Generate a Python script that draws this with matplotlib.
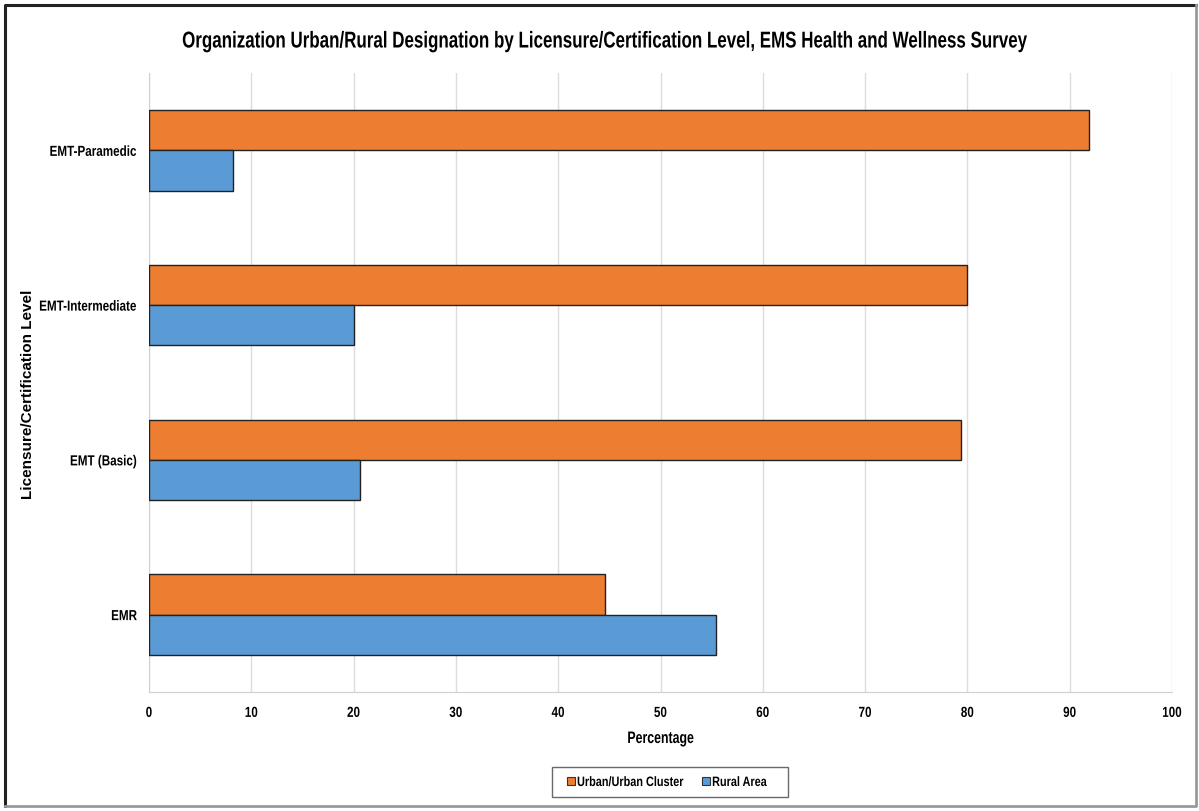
import matplotlib.pyplot as plt
from matplotlib.lines import Line2D
from matplotlib.patheffects import AbstractPathEffect
from matplotlib.transforms import Affine2D
import numpy as np

levels = ["EMR", "EMT (Basic)", "EMT-Intermediate", "EMT-Paramedic"]
urban = [44.6, 79.4, 80.0, 91.9]
rural = [55.4, 20.6, 20.0, 8.2]

ORANGE = "#ED7D31"
BLUE = "#5B9BD5"

plt.rcParams['font.family'] = ['Liberation Sans', 'DejaVu Sans']
plt.rcParams['font.weight'] = 'bold'
plt.rcParams['axes.labelweight'] = 'bold'


class Condense(AbstractPathEffect):
    """Squeeze glyphs horizontally to mimic a narrow typeface."""

    def __init__(self, sx, anchor='center'):
        super().__init__()
        self.sx = sx
        self.anchor = anchor

    def draw_path(self, renderer, gc, tpath, affine, rgbFace=None):
        ext = tpath.get_extents()
        if self.anchor == 'left':
            cx = ext.x0
        elif self.anchor == 'right':
            cx = ext.x1
        else:
            cx = (ext.x0 + ext.x1) / 2
        squeeze = Affine2D().translate(-cx, 0).scale(self.sx, 1).translate(cx, 0)
        renderer.draw_path(gc, tpath, squeeze + affine, rgbFace)


W, H = 1199, 811
fig = plt.figure(figsize=(W / 100, H / 100), dpi=100)
ax = fig.add_axes([149 / W, 1 - 692 / H, (1172 - 149) / W, (692 - 73) / H])

y = np.arange(len(levels))
h = 0.26
ax.barh(y + h / 2, urban, height=h, color=ORANGE, edgecolor="#222222",
        linewidth=1, label="Urban/Urban Cluster", zorder=3)
ax.barh(y - h / 2, rural, height=h, color=BLUE, edgecolor="#222222",
        linewidth=1, label="Rural Area", zorder=3)

ax.set_xlim(0, 100)
ax.set_ylim(-0.5, 3.5)
ax.set_xticks(range(0, 101, 10))
ax.set_yticks(y)
ax.set_yticklabels(levels)
ax.tick_params(axis='x', length=0, labelsize=10.5, pad=10)
ax.tick_params(axis='y', length=0, labelsize=10.5, pad=8.5)
for lbl in ax.get_xticklabels():
    lbl.set_path_effects([Condense(0.8)])
for lbl in ax.get_yticklabels():
    lbl.set_path_effects([Condense(0.8, 'right')])
ax.grid(axis='x', color="#dcdcdc", linewidth=1, zorder=0)
for side in ['top', 'right']:
    ax.spines[side].set_visible(False)
ax.spines['left'].set_color("#d0d0d0")
ax.spines['bottom'].set_color("#d0d0d0")

xl = ax.set_xlabel("Percentage", fontsize=12, labelpad=8)
xl.set_path_effects([Condense(0.74)])

fig.text(28 / W, 1 - 394 / H, "Licensure/Certification Level", rotation=90,
         fontsize=11, ha='center', va='center')
title = fig.text(603 / W, 1 - 41 / H,
                 "Organization Urban/Rural Designation by Licensure/Certification Level, "
                 "EMS Health and Wellness Survey",
                 fontsize=16.5, ha='center', va='center')
title.set_path_effects([Condense(0.74)])

handles = [Line2D([], [], marker='s', linestyle='', markersize=6,
                  markerfacecolor=c, markeredgecolor="#333333", markeredgewidth=0.8)
           for c in (ORANGE, BLUE)]
leg = fig.legend(handles, ["Urban/Urban Cluster", "Rural Area"], loc='center',
                 bbox_to_anchor=(670 / W, 1 - 782 / H), ncol=2, frameon=True,
                 fancybox=False, edgecolor="#444444", fontsize=9.8,
                 handletextpad=-0.44, columnspacing=-1.1, handlelength=1.7,
                 borderpad=0.6, borderaxespad=0)
leg.get_frame().set_linewidth(1.0)
for t in leg.get_texts():
    t.set_path_effects([Condense(0.8, 'left')])

# outer border: dark top/left, grey bottom/right
fig.add_artist(Line2D([5 / W, 5 / W, 1196 / W], [1 - 806 / H, 1 - 5 / H, 1 - 5 / H],
                      color="#222222", linewidth=2.2))
fig.add_artist(Line2D([5 / W, 1196 / W, 1196 / W], [1 - 806 / H, 1 - 806 / H, 1 - 5 / H],
                      color="#999999", linewidth=2))

fig.savefig("out.png", dpi=100)
